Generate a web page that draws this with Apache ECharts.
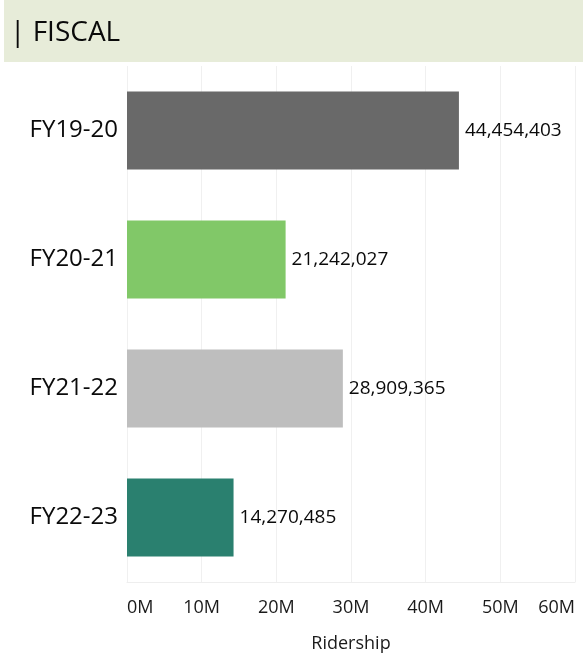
<!DOCTYPE html>
<html>
<head>
<meta charset="utf-8">
<script src="https://cdn.jsdelivr.net/npm/echarts@6/dist/echarts.min.js"></script>
<style>html,body{margin:0;padding:0;background:#fff}#c{width:583px;height:658px}</style>
</head>
<body>
<div id="c"></div>
<script>
var categories = ['FY19-20', 'FY20-21', 'FY21-22', 'FY22-23'];
var ridership = [44454403, 21242027, 28909365, 14270485];
var barColors = ['#696969', '#81c868', '#bebebe', '#2a806f'];
var xTicks = [0, 10000000, 20000000, 30000000, 40000000, 50000000, 60000000];

var chart = echarts.init(document.getElementById('c'));
var font = '"Open Sans", "Noto Sans", sans-serif';
chart.setOption({
  animation: false,
  graphic: [
    { type: 'rect', shape: { x: 4, y: 0, width: 579, height: 62 }, style: { fill: '#e7ecd9' }, z: -1 },
    { type: 'text', x: 10, y: 33, style: { text: '| FISCAL', fontSize: 28, fontFamily: font, fill: '#0a0a0a', verticalAlign: 'middle' } }
  ],
  grid: { left: 127, right: 8, top: 66, bottom: 76 },
  xAxis: {
    type: 'value', min: xTicks[0], max: xTicks[xTicks.length - 1], interval: xTicks[1] - xTicks[0],
    name: 'Ridership', nameLocation: 'middle', nameGap: 53,
    nameTextStyle: { fontSize: 18, fontFamily: font, color: '#1a1a1a' },
    axisLine: { show: true, lineStyle: { color: '#eeeeee' } },
    axisTick: { show: false },
    splitLine: { show: true, lineStyle: { color: '#f0f0f0', width: 1 } },
    axisLabel: {
      fontSize: 18, fontFamily: font, color: '#1a1a1a', margin: 17,
      alignMinLabel: 'left', alignMaxLabel: 'right',
      formatter: function (v) { return (v / 1000000) + 'M'; }
    }
  },
  yAxis: {
    type: 'category', data: categories, inverse: true,
    axisLine: { show: false }, axisTick: { show: false },
    splitLine: { show: false },
    axisLabel: { fontSize: 24, fontFamily: font, color: '#0a0a0a', margin: 9, padding: [4, 0, 0, 0] }
  },
  series: [{
    type: 'bar',
    barWidth: 78,
    data: ridership.map(function (v, i) { return { value: v, itemStyle: { color: barColors[i] } }; }),
    label: {
      show: true, position: 'right', distance: 6, padding: [3, 0, 0, 0],
      fontSize: 19, fontFamily: font, color: '#0a0a0a',
      formatter: function (p) { return p.value.toLocaleString('en-US'); }
    }
  }]
});
</script>
</body>
</html>
